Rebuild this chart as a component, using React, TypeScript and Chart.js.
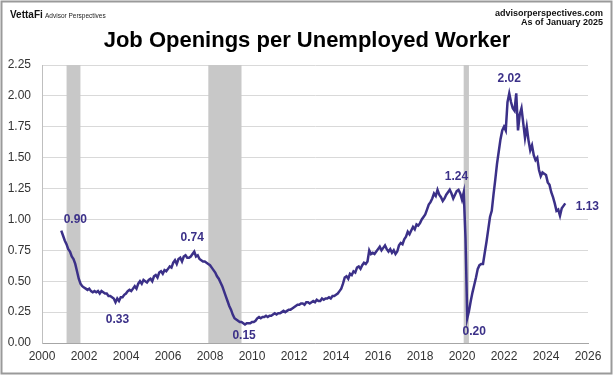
import React, { useEffect, useRef } from "react";
import { Chart, registerables } from "chart.js";

Chart.register(...registerables);

// Monthly series start: December 2000
const startYear = 2000;
const startMonth = 12;

// Job openings per unemployed worker, Dec 2000 – Dec 2009
const ratio2000s = [
  0.91,
  0.87, 0.83, 0.8, 0.76, 0.74, 0.7, 0.68, 0.64, 0.58, 0.52, 0.48, 0.46,
  0.45, 0.44, 0.43, 0.44, 0.42, 0.41, 0.42, 0.41, 0.42, 0.4, 0.42, 0.41,
  0.4, 0.4, 0.38, 0.38, 0.37, 0.36, 0.33, 0.36, 0.34, 0.37, 0.37, 0.39,
  0.4, 0.42, 0.43, 0.42, 0.44, 0.46, 0.44, 0.48, 0.5, 0.48, 0.51, 0.5,
  0.49, 0.51, 0.52, 0.5, 0.54, 0.55, 0.53, 0.57, 0.58, 0.56, 0.59, 0.58,
  0.6, 0.62, 0.61, 0.65, 0.67, 0.64, 0.68, 0.69, 0.66, 0.7, 0.71, 0.69,
  0.69, 0.7, 0.72, 0.74, 0.7, 0.71, 0.68, 0.67, 0.66, 0.66, 0.65, 0.64,
  0.63, 0.61, 0.59, 0.57, 0.54, 0.52, 0.49, 0.46, 0.42, 0.38, 0.34, 0.3,
  0.27, 0.23, 0.2, 0.19, 0.18, 0.17, 0.17, 0.16, 0.15, 0.16, 0.16, 0.16,
];

// 2010 – 2019
const ratio2010s = [
  0.17, 0.17, 0.18, 0.2, 0.21, 0.2, 0.21, 0.21, 0.22, 0.21, 0.22, 0.22,
  0.23, 0.24, 0.23, 0.24, 0.24, 0.25, 0.26, 0.25, 0.26, 0.27, 0.27, 0.28,
  0.29, 0.3, 0.31, 0.31, 0.32, 0.32, 0.31, 0.33, 0.33, 0.32, 0.33, 0.34,
  0.33, 0.35, 0.34, 0.34, 0.36, 0.35, 0.36, 0.36, 0.37, 0.36, 0.38, 0.38,
  0.39, 0.4, 0.42, 0.44, 0.48, 0.53, 0.54, 0.52, 0.56, 0.55, 0.58, 0.57,
  0.61, 0.62, 0.6, 0.63, 0.65, 0.64, 0.66, 0.75, 0.72, 0.73, 0.72, 0.74,
  0.76, 0.78, 0.75, 0.77, 0.79, 0.76, 0.74, 0.76, 0.73, 0.75, 0.72, 0.74,
  0.79, 0.81, 0.8, 0.84, 0.86, 0.9, 0.88, 0.91, 0.94, 0.92, 0.96, 0.95,
  0.97, 1.0, 1.02, 1.04, 1.08, 1.12, 1.14, 1.17, 1.21, 1.19, 1.24, 1.2,
  1.18, 1.15, 1.17, 1.2, 1.22, 1.24, 1.21, 1.17, 1.2, 1.23, 1.24, 1.21,
];

// 2020 – 2024
const ratio2020s = [
  1.16, 1.22, 0.85, 0.2, 0.26, 0.34, 0.41, 0.47, 0.53, 0.6, 0.63, 0.64,
  0.64, 0.73, 0.82, 0.92, 1.02, 1.07, 1.2, 1.32, 1.45, 1.55, 1.65, 1.72,
  1.75, 1.72, 1.95, 2.02, 1.95, 1.9, 1.88, 2.02, 1.72, 1.85, 1.9, 1.78,
  1.66, 1.75, 1.64, 1.56, 1.6, 1.52, 1.48, 1.5, 1.4, 1.35, 1.38, 1.37,
  1.36, 1.3, 1.28, 1.22, 1.18, 1.13, 1.07, 1.08, 1.03, 1.09, 1.11, 1.13,
];

// Recessions (decimal years)
const recessionStarts = [2001.17, 2007.92, 2020.08];
const recessionEnds = [2001.83, 2009.5, 2020.33];

// Annotated values and where they sit (decimal years)
const annotationDates = [2000.92, 2003.5, 2007.25, 2009.67, 2019.83, 2020.25, 2022.25, 2024.92];
const annotationValues = [0.9, 0.33, 0.74, 0.15, 1.24, 0.2, 2.02, 1.13];

// Axis ticks
const xTickMin = 2000;
const xTickMax = 2026;
const xTickStep = 2;
const yTickMin = 0;
const yTickMax = 2.25;
const yTickStep = 0.25;

const titleText = "Job Openings per Unemployed Worker";
const siteText = "advisorperspectives.com";
const asOfText = "As of January 2025";
const brandText = "VettaFi";
const brandSubText = "Advisor Perspectives";

const FONT = "'Liberation Sans', Arial, Helvetica, sans-serif";
const LINE_COLOR = "#3b3088";

// label offsets (px) relative to the annotated point: styling only
const labelDx = [14, 2, -2, -1, -2, 7, 0, 22];
const labelDy = [-12, 17, -14, 11, -13, 13, -15, 3];

export default function App() {
  const canvasRef = useRef<HTMLCanvasElement | null>(null);

  useEffect(() => {
    if (!canvasRef.current) return;
    const ratio = [...ratio2000s, ...ratio2010s, ...ratio2020s];
    const points = ratio.map((v, i) => ({
      x: startYear + (startMonth - 1 + i) / 12,
      y: v,
    }));

    const decorPlugin = {
      id: "decor",
      beforeDraw(chart: any) {
        const ctx = chart.ctx;
        ctx.save();
        ctx.fillStyle = "#ffffff";
        ctx.fillRect(0, 0, chart.width, chart.height);
        ctx.restore();
      },
      beforeDatasetsDraw(chart: any) {
        const ctx = chart.ctx;
        const xs = chart.scales.x;
        const area = chart.chartArea;
        ctx.save();
        ctx.fillStyle = "#c8c8c8";
        for (let i = 0; i < recessionStarts.length; i++) {
          const x0 = xs.getPixelForValue(recessionStarts[i]);
          const x1 = xs.getPixelForValue(recessionEnds[i]);
          ctx.fillRect(x0, area.top, x1 - x0, area.bottom - area.top);
        }
        ctx.restore();
      },
      afterDatasetsDraw(chart: any) {
        const ctx = chart.ctx;
        const xs = chart.scales.x;
        const ys = chart.scales.y;
        ctx.save();
        ctx.fillStyle = LINE_COLOR;
        ctx.font = `bold 12px ${FONT}`;
        ctx.textAlign = "center";
        ctx.textBaseline = "middle";
        for (let i = 0; i < annotationValues.length; i++) {
          const px = xs.getPixelForValue(annotationDates[i]) + labelDx[i];
          const py = ys.getPixelForValue(annotationValues[i]) + labelDy[i];
          ctx.fillText(annotationValues[i].toFixed(2), px, py);
        }
        ctx.restore();
      },
      afterDraw(chart: any) {
        const ctx = chart.ctx;
        ctx.save();
        // title
        ctx.fillStyle = "#000000";
        ctx.textBaseline = "alphabetic";
        ctx.textAlign = "center";
        ctx.font = `bold 22px ${FONT}`;
        ctx.fillText(titleText, 307, 47);
        // header right
        ctx.textAlign = "right";
        ctx.fillStyle = "#111111";
        ctx.font = `bold 9px ${FONT}`;
        ctx.fillText(siteText, 603, 16);
        ctx.fillText(asOfText, 603, 25);
        // brand left
        ctx.textAlign = "left";
        ctx.font = `bold 10px ${FONT}`;
        ctx.fillText(brandText, 10, 18);
        ctx.font = `6.5px ${FONT}`;
        ctx.fillStyle = "#222222";
        ctx.fillText(brandSubText, 45, 18);
        // frame
        ctx.strokeStyle = "#9a9a9a";
        ctx.lineWidth = 2;
        ctx.strokeRect(1.5, 1.5, chart.width - 3, chart.height - 3);
        ctx.restore();
      },
    };

    const chart = new Chart(canvasRef.current, {
      type: "line",
      data: {
        datasets: [
          {
            data: points,
            borderColor: LINE_COLOR,
            backgroundColor: LINE_COLOR,
            borderWidth: 2.5,
            pointRadius: 0,
            tension: 0,
            fill: false,
          },
        ],
      },
      options: {
        animation: false,
        responsive: false,
        maintainAspectRatio: false,
        layout: { padding: { top: 65, right: 25, bottom: 8, left: 0 } },
        plugins: {
          legend: { display: false },
          tooltip: { enabled: false },
          title: { display: false },
        },
        scales: {
          x: {
            type: "linear",
            min: xTickMin,
            max: xTickMax,
            afterFit: (s: any) => {
              s.height = 24;
            },
            ticks: {
              stepSize: xTickStep,
              autoSkip: false,
              maxRotation: 0,
              padding: 6,
              color: "#333333",
              font: { family: FONT, size: 12 },
              callback: (v: any) => String(v),
            },
            grid: { drawOnChartArea: false, drawTicks: false },
            border: { display: true, color: "#a6a6a6", width: 1 },
          },
          y: {
            min: yTickMin,
            max: yTickMax,
            afterFit: (s: any) => {
              s.width = 42;
            },
            ticks: {
              stepSize: yTickStep,
              padding: 11,
              color: "#333333",
              font: { family: FONT, size: 12 },
              callback: (v: any) => Number(v).toFixed(2),
            },
            grid: { color: "#d9d9d9", lineWidth: 1, drawTicks: false },
            border: { display: true, color: "#bfbfbf", width: 1 },
          },
        },
      },
      plugins: [decorPlugin],
    } as any);

    return () => chart.destroy();
  }, []);

  return (
    <div style={{ position: "absolute", left: 0, top: 0, width: 613, height: 375 }}>
      <canvas ref={canvasRef} width={613} height={375} style={{ width: 613, height: 375, display: "block" }} />
    </div>
  );
}
